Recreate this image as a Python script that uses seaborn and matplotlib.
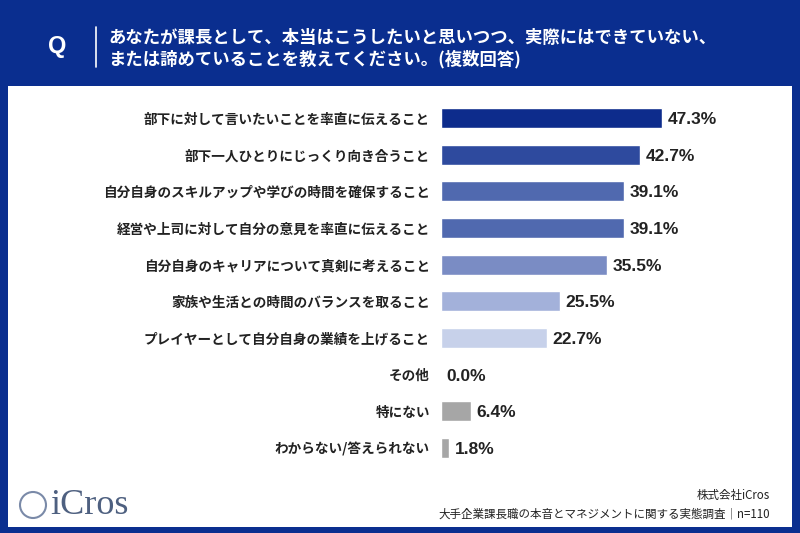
import matplotlib
matplotlib.use("Agg")
import matplotlib.pyplot as plt
import seaborn as sns
import pandas as pd
from matplotlib.patches import Rectangle, Ellipse

categories = [
    "部下に対して言いたいことを率直に伝えること",
    "部下一人ひとりにじっくり向き合うこと",
    "自分自身のスキルアップや学びの時間を確保すること",
    "経営や上司に対して自分の意見を率直に伝えること",
    "自分自身のキャリアについて真剣に考えること",
    "家族や生活との時間のバランスを取ること",
    "プレイヤーとして自分自身の業績を上げること",
    "その他",
    "特にない",
    "わからない/答えられない",
]
values = [47.3, 42.7, 39.1, 39.1, 35.5, 25.5, 22.7, 0.0, 6.4, 1.8]
colors = ["#0D2C8C", "#2E4A9E", "#5069AF", "#5069AF", "#7A8CC4",
          "#A3B1DA", "#C7D1EA", "#A6A6A6", "#A6A6A6", "#A6A6A6"]
title_lines = ["あなたが課長として、本当はこうしたいと思いつつ、実際にはできていない、",
               "または諦めていることを教えてください。(複数回答)"]
footer_lines = ["株式会社iCros", "大手企業課長職の本音とマネジメントに関する実態調査｜n=110"]

sns.set_theme(style="white")
plt.rcParams['font.family'] = ['Noto Sans CJK JP', 'DejaVu Sans']

W, H = 800, 533
fig = plt.figure(figsize=(8, 5.33), dpi=100)
fig.patch.set_facecolor("#0A2E8F")

def fx(x): return x / W
def fy(y): return 1 - y / H

# white panel
fig.patches.append(Rectangle((fx(8), fy(527)), fx(792) - fx(8), fy(86) - fy(527),
                             transform=fig.transFigure, facecolor="white",
                             edgecolor="none", zorder=-5))

# header
fig.text(fx(57), fy(47), "Q", color="white", fontsize=17, fontweight="bold",
         ha="center", va="center", family=["Liberation Sans", "DejaVu Sans"])
fig.add_artist(plt.Line2D([fx(96), fx(96)], [fy(27), fy(67)], color="white",
                          lw=1.2, transform=fig.transFigure))
fig.text(fx(108), fy(38), title_lines[0], color="white", fontsize=12.5,
         fontweight="bold", ha="left", va="center")
fig.text(fx(108), fy(59), title_lines[1], color="white", fontsize=12.5,
         fontweight="bold", ha="left", va="center")

# bar axes
left, right = 441, 790
top, bottom = 99.7, 466.3
ax = fig.add_axes([fx(left), fy(bottom), fx(right) - fx(left), (bottom - top) / H])
ax.set_zorder(2)
df = pd.DataFrame({"cat": categories, "val": values})
sns.barplot(data=df, x="val", y="cat", hue="cat", palette=colors, legend=False,
            width=0.55, ax=ax, saturation=1)
ax.set_xlim(0, (right - left) / 4.67)
ax.set_ylim(9.5, -0.5)
ax.set_xlabel("")
ax.set_ylabel("")
ax.set_xticks([])
ax.tick_params(axis="y", length=0, pad=8)
ax.set_yticks(range(len(categories)))
ax.set_yticklabels(categories, fontsize=9.8, fontweight="bold", color="#222222")
for s in ax.spines.values():
    s.set_visible(False)
ax.patch.set_alpha(0)
for i, v in enumerate(values):
    ax.text(v + 1.2, i, f"{v:.1f}%", va="center_baseline", ha="left", fontsize=12.5,
            fontweight="bold", color="#222222", family=["Liberation Sans", "DejaVu Sans"])

# footer
fig.text(fx(770), fy(495), footer_lines[0], color="#222222", fontsize=8.3,
         ha="right", va="center")
fig.text(fx(770), fy(514), footer_lines[1], color="#222222", fontsize=8.3,
         ha="right", va="center")
fig.add_artist(Ellipse((fx(33), fy(505)), 26 / W, 26 / H, transform=fig.transFigure,
                       fill=False, edgecolor="#7A8AA8", lw=1.5))
fig.text(fx(50), fy(506), "iCros", color="#4E6080", fontsize=26,
         family=["Liberation Serif", "DejaVu Serif"], ha="left", va="center")

fig.savefig("out.png", dpi=100, facecolor=fig.get_facecolor())
